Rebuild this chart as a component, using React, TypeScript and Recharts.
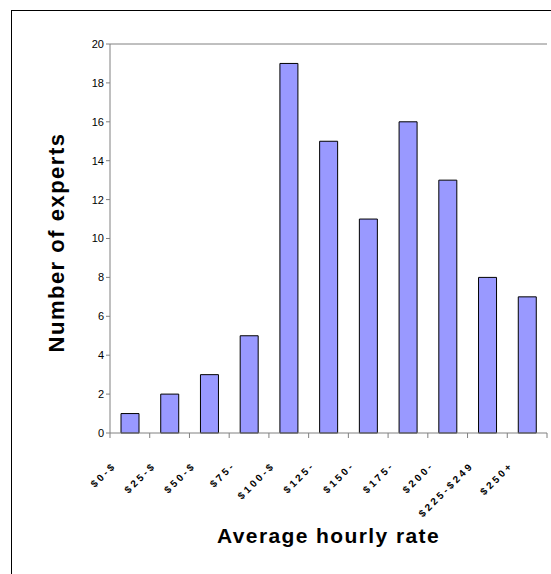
import { BarChart, Bar, XAxis, YAxis, ReferenceLine } from "recharts";

// Hourly rate bands and how many experts fall in each
const rateBands = ["$0-$", "$25-$", "$50-$", "$75-", "$100-$", "$125-", "$150-", "$175-", "$200-", "$225-$249", "$250+"];
const expertCounts = [1, 2, 3, 5, 19, 15, 11, 16, 13, 8, 7];
const yTicks = [0, 2, 4, 6, 8, 10, 12, 14, 16, 18, 20];

const data = rateBands.map((band, i) => ({ band, experts: expertCounts[i] }));

const AXIS_GREY = "#808080";
const BAND_WIDTH = 437 / rateBands.length;

// Excel-style tick: mark sits on the band boundary, label slanted below
const RateTick = (props: any) => {
  const { x, y, payload, index } = props;
  const isLast = index === rateBands.length - 1;
  return (
    <g>
      <line x1={x - BAND_WIDTH / 2} y1={y - 8} x2={x - BAND_WIDTH / 2} y2={y - 3} stroke={AXIS_GREY} />
      {isLast && <line x1={x + BAND_WIDTH / 2} y1={y - 8} x2={x + BAND_WIDTH / 2} y2={y - 3} stroke={AXIS_GREY} />}
      <text
        transform={`translate(${x - 13},${y + 25}) rotate(-45)`}
        textAnchor="end"
        fontSize={10}
        fontWeight="bold"
        letterSpacing={2.8}
        fontFamily="Arial, 'Liberation Sans', sans-serif"
        fill="#000"
      >
        {payload.value}
      </text>
    </g>
  );
};

const App = () => {
  return (
    <div style={{ position: "absolute", left: 0, top: 0, width: 551, height: 574, overflow: "hidden", background: "#fff" }}>
      <div style={{ position: "absolute", left: 11, top: 10, width: 600, height: 600, border: "1px solid #000" }} />
      <div style={{ position: "absolute", left: 0, top: 0 }}>
        <BarChart
          width={551}
          height={574}
          data={data}
          margin={{ top: 44, right: 4, left: 10, bottom: 21 }}
          barSize={18}
          style={{ fontFamily: "Arial, 'Liberation Sans', sans-serif" }}
        >
          <XAxis
            dataKey="band"
            height={120}
            axisLine={{ stroke: AXIS_GREY }}
            tickLine={false}
            interval={0}
            tick={<RateTick />}
            label={{
              value: "Average hourly rate",
              position: "insideBottom",
              offset: 10,
              style: { fontSize: 21, fontWeight: "bold", fill: "#000", letterSpacing: 1.4 },
            }}
          />
          <YAxis
            domain={[0, 20]}
            ticks={yTicks}
            width={100}
            axisLine={{ stroke: AXIS_GREY }}
            tickLine={{ stroke: AXIS_GREY }}
            tickSize={4}
            tick={{ fontSize: 11, fill: "#000" }}
            label={{
              value: "Number of experts",
              angle: -90,
              position: "insideLeft",
              offset: 46,
              dy: 4,
              style: { fontSize: 22, fontWeight: "bold", fill: "#000", letterSpacing: 1.5, textAnchor: "middle" },
            }}
          />
          <YAxis yAxisId="right" orientation="right" width={0} tick={false} axisLine={{ stroke: AXIS_GREY }} tickLine={false} />
          <ReferenceLine y={20} stroke={AXIS_GREY} />
          <Bar dataKey="experts" fill="#9999ff" stroke="#000" strokeWidth={1} isAnimationActive={false} />
        </BarChart>
      </div>
    </div>
  );
};

export default App;
